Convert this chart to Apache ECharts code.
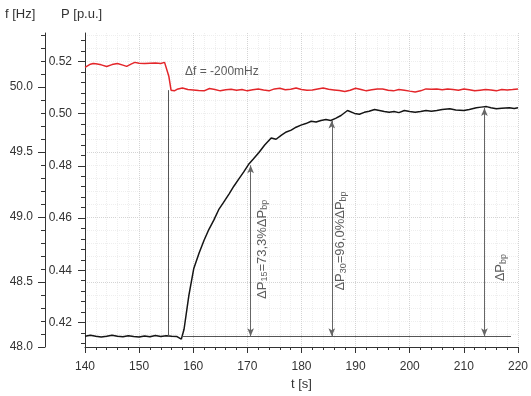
<!DOCTYPE html>
<html><head><meta charset="utf-8">
<script src="https://cdn.jsdelivr.net/npm/echarts@6/dist/echarts.min.js"></script>
<style>html,body{margin:0;padding:0;background:#fff}#c{width:531px;height:396px}</style>
</head><body><div id="c"></div>
<script>
// ---- data ----
const fTime = [140,141,141.5,142,143,144,145,146,147,147.7,148.5,149.2,150,151,152,153,154,154.7,155.0,155.5,155.9,156.5,157,158,159,160,161,162,163,164,165,166,167,168,169,170,171,172,173,174,175,176,177,178,179,180,181,182,183,184,185,186,187,188,189,190,191,192,193,194,195,196,197,198,199,200,201,202,203,204,205,206,207,208,209,210,211,212,213,214,215,216,217,218,219,220];
const fValue = [50.151,50.175,50.181,50.178,50.170,50.158,50.172,50.181,50.168,50.158,50.176,50.189,50.183,50.181,50.183,50.184,50.181,50.189,50.181,50.080,49.975,49.970,49.982,49.992,49.980,49.977,49.972,49.970,49.988,49.980,49.970,49.978,49.982,49.975,49.980,49.970,49.978,49.985,49.977,49.970,49.985,49.990,49.978,49.982,49.992,49.980,49.975,49.977,49.985,49.992,49.982,49.977,49.972,49.965,49.975,49.990,49.980,49.970,49.978,49.985,49.985,49.975,49.970,49.980,49.975,49.968,49.962,49.970,49.985,49.982,49.985,49.978,49.985,49.980,49.975,49.985,49.978,49.970,49.975,49.980,49.977,49.970,49.980,49.977,49.980,49.985];
const pTime = [140,141,142,143,144,145,146,147,148,149,150,151,152,153,154,155,156,157,157.8,158.3,159.2,160.1,161.1,162,162.9,163.8,164.7,165.6,166.6,167.5,168.4,169.3,170.2,171.1,172.1,173.2,174.4,175.3,176.3,177.2,178.1,179,179.9,180.8,181.8,182.7,183.6,184.5,185.4,186.3,187.3,188.5,189.8,190.7,191.6,192.5,193.5,194.4,195.3,196.2,197.1,198,199,200,201,202,203,204,205,206,207.4,208.5,210,211,212.3,213.2,214.2,215,216,217,218.4,219.3,220];
const pValue = [0.4147,0.4151,0.4147,0.4144,0.4147,0.4151,0.4147,0.4145,0.4149,0.4146,0.4144,0.4148,0.4145,0.4150,0.4146,0.4149,0.4147,0.4146,0.4136,0.4174,0.4305,0.4407,0.4467,0.4515,0.4557,0.4592,0.4632,0.4660,0.4692,0.4722,0.4749,0.4776,0.4805,0.4826,0.4850,0.4880,0.4907,0.4902,0.4918,0.4930,0.4937,0.4948,0.4956,0.4962,0.4971,0.4968,0.4974,0.4978,0.4974,0.4982,0.4993,0.5012,0.5001,0.4998,0.5005,0.5009,0.5016,0.5012,0.5008,0.5005,0.5008,0.5004,0.5012,0.5008,0.5005,0.5008,0.5012,0.5009,0.5012,0.5016,0.5019,0.5014,0.5012,0.5016,0.5023,0.5025,0.5027,0.5023,0.5019,0.5021,0.5023,0.5020,0.5023];

const pTickLabels = [0.42,0.44,0.46,0.48,0.50,0.52];
const pMinorTicks = [0.412,0.416,0.424,0.428,0.432,0.436,0.444,0.448,0.452,0.456,0.464,0.468,0.472,0.476,0.484,0.488,0.492,0.496,0.504,0.508,0.512,0.516,0.524,0.528];
const fTickLabels = [48.0,48.5,49.0,49.5,50.0];
const fMinorTicks = [48.1,48.2,48.3,48.4,48.6,48.7,48.8,48.9,49.1,49.2,49.3,49.4,49.6,49.7,49.8,49.9,50.1,50.2,50.3,50.4];

// annotations
const basePower = 0.4147;
const stepTime = 155.3;
const stepTopPower = 0.509;
const refLineEnd = 218.7;
const refLineStart = 158.0;
const arrowTimes = [170.6, 185.6, 213.8];
const arrowTops = [0.4802, 0.4974, 0.5022];
const labelTimes = [172.7, 187.2, 216.7];
const labelPowers = [0.4480, 0.4512, 0.4410];
const labelTexts = ['{n|ΔP}{s|15}{n|=73,3%ΔP}{s|bp}', '{n|ΔP}{s|30}{n|=96,0%ΔP}{s|bp}', '{n|ΔP}{s|bp}'];
const dfLabel = 'Δf = -200mHz';
const dfPos = [165.3, 50.121];

const P_MIN = 0.4106, P_MAX = 0.5309, F_MIN = 48.0, F_MAX = 50.415;

const FONT = 'Liberation Sans, Arial, sans-serif';
const TXT = '#333';
const AX = '#333';

const zip = (a, b) => a.map((v, i) => [v, b[i]]);

const chart = echarts.init(document.getElementById('c'), null, {renderer: 'canvas'});

const markData = [
  [{coord: [stepTime, basePower], symbol: 'none'}, {coord: [stepTime, stepTopPower], symbol: 'none'}],
  [{coord: [refLineStart, basePower], symbol: 'none'}, {coord: [refLineEnd, basePower], symbol: 'none'}]
];
arrowTimes.forEach((t, i) => {
  markData.push([{coord: [t, basePower], symbol: 'arrow', lineStyle: {color: '#666'}}, {coord: [t, arrowTops[i]], symbol: 'arrow'}]);
});

const option = {
  animation: false,
  backgroundColor: '#fff',
  grid: {left: 85, right: 10, top: 33, bottom: 43, containLabel: false},
  xAxis: {
    type: 'value', min: 140, max: 220, interval: 10,
    name: 't [s]', nameLocation: 'middle', nameGap: 31,
    nameTextStyle: {fontFamily: FONT, fontSize: 13, color: TXT},
    axisLine: {lineStyle: {color: AX, width: 1}},
    axisTick: {length: 6, lineStyle: {color: AX}},
    minorTick: {show: true, splitNumber: 5, length: 3, lineStyle: {color: AX}},
    axisLabel: {fontFamily: FONT, fontSize: 12, color: TXT, margin: 14},
    splitLine: {show: true, lineStyle: {color: '#d4d4d4', type: 'dotted'}},
    minorSplitLine: {show: true, lineStyle: {color: '#eeeeee', type: 'dotted'}}
  },
  yAxis: [
    { // P main
      type: 'value', min: P_MIN, max: P_MAX, position: 'left', offset: 0,
      axisLine: {show: true, lineStyle: {color: AX}},
      axisTick: {show: true, length: 7, customValues: pTickLabels, lineStyle: {color: AX}},
      axisLabel: {customValues: pTickLabels, formatter: v => v.toFixed(2), fontFamily: FONT, fontSize: 12, color: TXT, margin: 13},
      splitLine: {show: false}
    },
    { // f main
      type: 'value', min: F_MIN, max: F_MAX, interval: 0.5, position: 'left', offset: 40,
      axisLine: {show: true, lineStyle: {color: AX}},
      axisTick: {show: true, length: 7, customValues: fTickLabels, lineStyle: {color: AX}},
      axisLabel: {customValues: fTickLabels, formatter: v => v.toFixed(1), fontFamily: FONT, fontSize: 12, color: TXT, margin: 12},
      splitLine: {show: true, showMinLine: false, showMaxLine: false, lineStyle: {color: '#d4d4d4', type: 'dotted'}},
      minorTick: {show: false, splitNumber: 5},
      minorSplitLine: {show: true, lineStyle: {color: '#eeeeee', type: 'dotted'}}
    },
    { // P minor ticks
      type: 'value', min: P_MIN, max: P_MAX, position: 'left', offset: 0,
      axisLine: {show: false},
      axisTick: {show: true, length: 4, customValues: pMinorTicks, lineStyle: {color: AX}},
      axisLabel: {show: false},
      splitLine: {show: false}
    },
    { // f minor ticks
      type: 'value', min: F_MIN, max: F_MAX, position: 'left', offset: 40,
      axisLine: {show: false},
      axisTick: {show: true, length: 4, customValues: fMinorTicks, lineStyle: {color: AX}},
      axisLabel: {show: false},
      splitLine: {show: false}
    }
  ],
  graphic: [
    {type: 'text', left: 5, top: 8, style: {text: 'f [Hz]', font: '13px ' + FONT, fill: TXT}},
    {type: 'text', left: 61, top: 8, style: {text: 'P [p.u.]', font: '13px ' + FONT, fill: TXT}}
  ],
  series: [
    {
      name: 'f', type: 'line', yAxisIndex: 1, data: zip(fTime, fValue),
      showSymbol: false, symbol: 'none', smooth: false,
      lineStyle: {color: '#e3262a', width: 1.5}, z: 3
    },
    {
      name: 'P', type: 'line', yAxisIndex: 0, data: zip(pTime, pValue),
      showSymbol: false, symbol: 'none', smooth: false,
      lineStyle: {color: '#151515', width: 1.5}, z: 4,
      markLine: {
        silent: true, animation: false, symbolSize: [5, 8], precision: 4,
        label: {show: false},
        lineStyle: {color: '#555', width: 1, type: 'solid'},
        emphasis: {disabled: true},
        data: markData
      }
    },
    {
      name: 'labels', type: 'scatter', yAxisIndex: 0, symbolSize: 0, silent: true, z: 5,
      data: labelTimes.map((t, i) => ({
        value: [t, labelPowers[i]],
        label: {formatter: labelTexts[i]}
      })),
      label: {
        show: true, position: 'inside', rotate: 90, align: 'center', verticalAlign: 'middle',
        rich: {
          n: {fontFamily: FONT, fontSize: 13, color: TXT, lineHeight: 15},
          s: {fontFamily: FONT, fontSize: 9, color: TXT, lineHeight: 9, verticalAlign: 'bottom'}
        }
      }
    },
    {
      name: 'df', type: 'scatter', yAxisIndex: 1, symbolSize: 0, silent: true, z: 5,
      data: [{value: dfPos, label: {formatter: dfLabel}}],
      label: {show: true, position: 'inside', fontFamily: FONT, fontSize: 12, color: TXT}
    }
  ]
};
chart.setOption(option);
</script>
</body></html>
